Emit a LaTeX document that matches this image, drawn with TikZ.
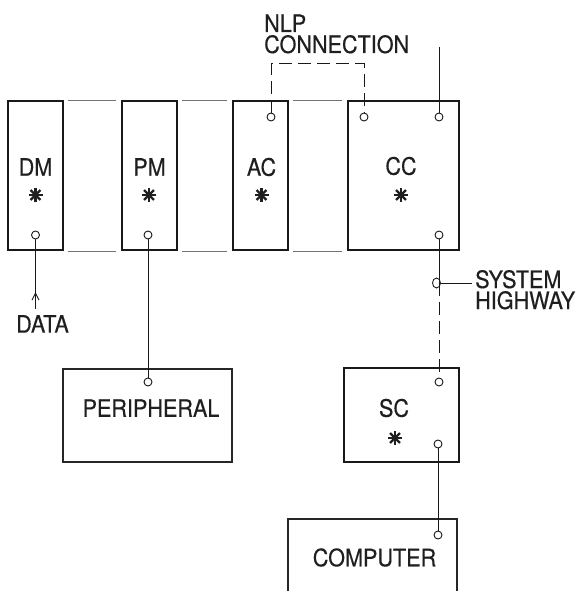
\documentclass[tikz,border=0pt]{standalone}
\usepackage{fontspec}
\setmainfont{TeX Gyre Heros}[FakeStretch=0.9,FakeBold=0.4]
\usetikzlibrary{arrows.meta,shapes.geometric}
\begin{document}
\begin{tikzpicture}[x=1pt,y=-1pt,
  unitbox/.style={draw=black!90, line width=1.7pt, minimum width=55pt, minimum height=149pt, inner sep=0pt},
  plainbox/.style={draw=black!85, line width=1.1pt, inner sep=0pt},
  port/.style={circle, draw=black!90, fill=white, line width=0.9pt, minimum size=8pt, inner sep=0pt},
  lbl/.style={font=\fontsize{24}{21}\selectfont, text=black!88, inner sep=0pt},
  wire/.style={draw=black!90, line width=1pt},
  dashwire/.style={draw=black!90, line width=1pt, dash pattern=on 13pt off 6pt},
  sepline/.style={draw=black!55, line width=0.6pt},
  pics/astk/.style={code={\foreach \a in {0,45,90,135} \draw[line width=2.3pt, black!88] (\a:7) -- (\a+180:7);}}
]
\useasboundingbox (0,0) rectangle (579,591);
\clip (0,0) rectangle (579,591);

% module boxes
\node[unitbox] (dm) at (35.5,175.5) {};
\node[unitbox] (pm) at (149.5,175.5) {};
\node[unitbox] (ac) at (260.5,175.5) {};
\node[unitbox, minimum width=111pt] (cc) at (403.5,175.5) {};
\node[unitbox, minimum width=115pt, minimum height=94pt] (sc) at (401.5,415) {};
\node[plainbox, minimum width=169pt, minimum height=93pt] (per) at (147.5,415.5) {};
\node[plainbox, minimum width=169pt, minimum height=140pt] (comp) at (372.5,589) {};

% labels
\node[lbl] (dml) at (35.5,167) {DM};
\node[lbl] (pml) at (149.5,167) {PM};
\node[lbl] (acl) at (261.5,167) {AC};
\node[lbl] (ccl) at (401,166) {CC};
\node[lbl] (scl) at (394,408) {SC};
\node[lbl] (perl) at (151,408) {PERIPHERAL};
\node[lbl] (compl) at (374.5,557.5) {COMPUTER};
\node[lbl, anchor=north] (datal) at (42.5,315) {DATA};
\node[lbl, anchor=base west] (nlpl) at (264,32) {NLP};
\node[lbl, anchor=base west] (connl) at (264,53) {CONNECTION};
\node[lbl, anchor=base west] (sysl) at (475,288) {SYSTEM};
\node[lbl, anchor=base west] (hwyl) at (475,309) {HIGHWAY};

% asterisks
\pic at (35.5,195) {astk};
\pic at (149,195) {astk};
\pic at (261.5,195) {astk};
\pic at (401,195) {astk};
\pic at (395,438) {astk};

% separator lines between modules
\draw[sepline] ([xshift=4pt]dm.north east) -- ([xshift=-5pt]pm.north west);
\draw[sepline] ([xshift=4pt]pm.north east) -- ([xshift=-5pt]ac.north west);
\draw[sepline] ([xshift=4pt]ac.north east) -- ([xshift=-5pt]cc.north west);
\draw[sepline] ([xshift=4pt]dm.south east) -- ([xshift=-5pt]pm.south west);
\draw[sepline] ([xshift=4pt]pm.south east) -- ([xshift=-5pt]ac.south west);
\draw[sepline] ([xshift=4pt]ac.south east) -- ([xshift=-5pt]cc.south west);

% ports
\node[port] (dmp) at (35.5,235) {};
\node[port] (pmp) at (148,235) {};
\node[port] (acp) at (271,117) {};
\node[port] (ccp1) at (364,117) {};
\node[port] (ccp2) at (439,117) {};
\node[port] (ccp3) at (439,235) {};
\node[port] (perp) at (148,382) {};
\node[port] (scp1) at (439,382) {};
\node[port] (scp2) at (438,444) {};
\node[port] (compp) at (438,535) {};

% connectors
\coordinate (datatail) at (35.5,309);
\coordinate (datatip) at (35.5,292);
\draw[wire] (dmp) -- (datatail);
\draw[wire, -{Straight Barb[length=7pt,width=7pt,line width=1pt]}] (datatail) -- (datatip);

\draw[wire] (pmp) -- (perp);

\coordinate (cctop) at (439,47);
\draw[wire] (ccp2) -- (cctop);

\coordinate (nlpmid) at (317,64);
\draw[dashwire] (acp) |- (nlpmid) -| (ccp1);

\node[ellipse, draw=black!90, line width=0.9pt, minimum width=8pt, minimum height=10pt, inner sep=0pt] (hw) at (436.5,283) {};
\coordinate (hwline) at (439,283);
\draw[wire] (ccp3) -- (hwline);
\draw[dashwire] (hwline) -- (scp1);
\draw[wire] (hw.east) -- ([xshift=-3pt]sysl.west |- hw.east);

\draw[wire] (scp2) -- (compp);
\end{tikzpicture}
\end{document}
